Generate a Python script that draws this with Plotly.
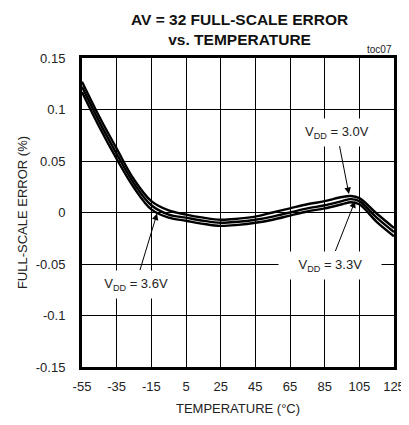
import plotly.graph_objects as go

temps = [-55, -45, -35, -25, -15, -5, 5, 15, 25, 35, 45, 55, 65, 75, 85, 95, 100, 105, 115, 125]
err_30 = [0.127, 0.093, 0.062, 0.032, 0.011, 0.002, -0.002, -0.005, -0.007, -0.006, -0.004, 0.000, 0.004, 0.008, 0.011, 0.015, 0.016, 0.014, -0.001, -0.015]
err_33 = [0.122, 0.088, 0.057, 0.028, 0.007, -0.002, -0.005, -0.008, -0.010, -0.009, -0.007, -0.004, 0.000, 0.004, 0.007, 0.011, 0.013, 0.011, -0.005, -0.019]
err_36 = [0.117, 0.083, 0.052, 0.024, 0.003, -0.005, -0.008, -0.011, -0.013, -0.012, -0.010, -0.007, -0.003, 0.001, 0.004, 0.008, 0.010, 0.008, -0.009, -0.023]

x_ticks = [-55, -35, -15, 5, 25, 45, 65, 85, 105, 125]
y_ticks = [-0.15, -0.1, -0.05, 0, 0.05, 0.1, 0.15]
y_tick_labels = ["-0.15", "-0.1", "-0.05", "0", "0.05", "0.1", "0.15"]

FONT = "Liberation Sans, Arial, sans-serif"

fig = go.Figure()
for name, ys in [("3.0V", err_30), ("3.3V", err_33), ("3.6V", err_36)]:
    fig.add_trace(go.Scatter(x=temps, y=ys, mode="lines", name=name,
                             line=dict(color="black", width=2.4, shape="spline", smoothing=1.0),
                             showlegend=False, hoverinfo="skip"))

# page body has an 8px default margin, so the figure is 8px smaller than the window
fig.update_layout(
    width=401, height=417,
    margin=dict(l=74, r=15, t=50, b=58),
    paper_bgcolor="white", plot_bgcolor="white",
    font=dict(family=FONT, size=13, color="#222"),
    xaxis=dict(range=[-55, 125], tickvals=x_ticks, ticktext=[str(v) for v in x_ticks],
               showgrid=True, gridcolor="black", gridwidth=1, zeroline=False,
               showline=True, linecolor="black", linewidth=3, mirror=True,
               ticks="", tickfont=dict(size=13), automargin=False, ticklabelstandoff=5,
               title=dict(text="TEMPERATURE (°C)", font=dict(size=13), standoff=12)),
    yaxis=dict(range=[-0.15, 0.15], tickvals=y_ticks, ticktext=y_tick_labels,
               showgrid=True, gridcolor="black", gridwidth=1, zeroline=False,
               showline=True, linecolor="black", linewidth=3, mirror=True,
               ticks="", tickfont=dict(size=13), automargin=False, ticklabelstandoff=11,
               title=dict(text="FULL-SCALE ERROR (%)", font=dict(size=13), standoff=6)),
)

annos = [
    dict(x=99, y=0.018, ax=92, ay=0.078, text="V<sub>DD</sub> = 3.0V"),
    dict(x=102.5, y=0.011, ax=88, ay=-0.051, text="\u00a0\u00a0\u00a0\u00a0V<sub>DD</sub> = 3.3V\u00a0\u00a0\u00a0\u00a0"),
    dict(x=-11.7, y=-0.001, ax=-24, ay=-0.0695, text="\u00a0\u00a0V<sub>DD</sub> = 3.6V\u00a0\u00a0"),
]
for a in annos:
    fig.add_annotation(x=a["x"], y=a["y"], ax=a["ax"], ay=a["ay"], xref="x", yref="y",
                       axref="x", ayref="y", text=a["text"], showarrow=True,
                       arrowhead=2, arrowsize=1.3, arrowwidth=1, arrowcolor="black",
                       bgcolor="white", borderpad=5, font=dict(size=13, color="#222"))

fig.add_annotation(xref="paper", yref="paper", x=(239 - 82) / 312, y=(367 - 30) / 309,
                   xanchor="center", yanchor="middle", showarrow=False,
                   text="<b>AV = 32 FULL-SCALE ERROR<br>vs. TEMPERATURE</b>",
                   font=dict(size=15.5, color="#111"))
fig.add_annotation(xref="paper", yref="paper", x=1.0, y=1.0, xanchor="right", yanchor="bottom",
                   text="toc07", showarrow=False, font=dict(size=10, color="#222"), yshift=1)

fig.write_html("out.html")
